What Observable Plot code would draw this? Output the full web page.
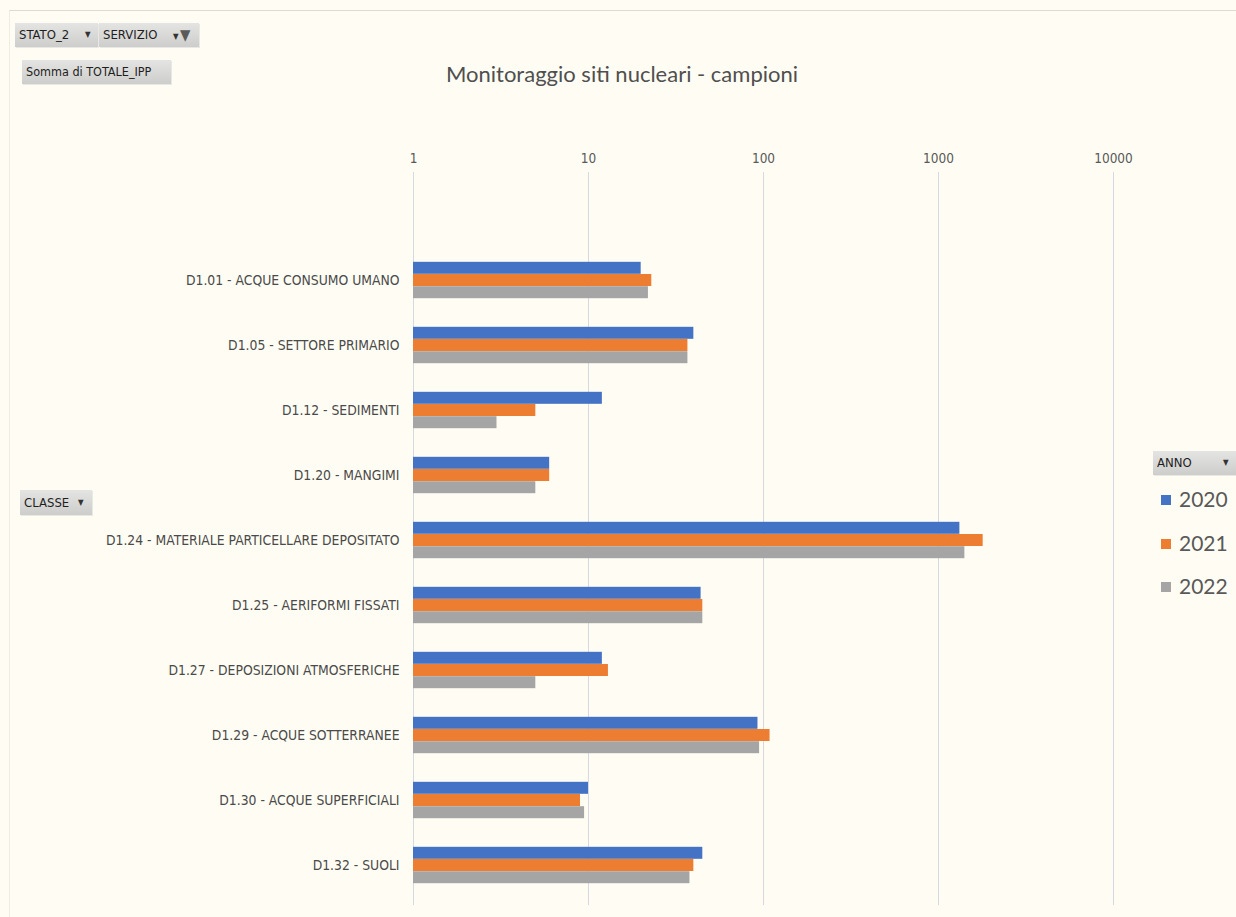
<!DOCTYPE html>
<html>
<head>
<meta charset="utf-8">
<script src="https://cdn.jsdelivr.net/npm/d3@7"></script>
<script src="https://cdn.jsdelivr.net/npm/@observablehq/plot@0.6"></script>
<style>
  html, body { margin: 0; padding: 0; background: #fffdf3; }
  #page { position: relative; width: 1236px; height: 917px; overflow: hidden; background: #fffdf3;
          font-family: "DejaVu Sans Condensed", sans-serif; }
  .frame { position: absolute; left: 9px; top: 10px; right: -2px; bottom: -2px;
           border-top: 1px solid #dcdbd4; border-left: 1px solid #eeede4; }
  .btn { position: absolute; box-sizing: border-box; background: linear-gradient(#e4e4e2, #cdcdcb);
         color: #1e1e1e; font-size: 13px; padding-left: 4px; white-space: nowrap;
         box-shadow: 1px 1px 0 #e8e8e4; }
  .btn .arr { font-size: 8px; position: absolute; color: #333; }
  #title { position: absolute; left: 0; width: 1244px; top: 60px; text-align: center;
           font-family: Lato, "Open Sans", sans-serif; font-size: 22px; color: #4f4f4f; }
  #chart { position: absolute; left: 0; top: 0; }
  .leg { position: absolute; left: 1161px; font-family: Lato, "Open Sans", sans-serif;
         font-size: 21px; color: #595959; line-height: 24px; }
  .leg i { display: inline-block; width: 10px; height: 10px; margin-right: 8px; vertical-align: 2px; }
</style>
</head>
<body>
<div id="page">
  <div class="frame"></div>
  <div class="btn" style="left:15px;top:23px;width:83px;height:24px;line-height:24px;">STATO_2<span class="arr" style="left:70px;">&#9660;</span></div>
  <div class="btn" style="left:99px;top:23px;width:100px;height:24px;line-height:24px;">SERVIZIO<span class="arr" style="left:74px;top:2px;">&#9660;</span><span style="position:absolute;left:81px;top:0;color:#5a5a5a;font-size:15px;">&#9660;</span></div>
  <div class="btn" style="left:22px;top:60px;width:149px;height:24px;line-height:24px;font-size:12.5px;">Somma di TOTALE_IPP</div>
  <div class="btn" style="left:20px;top:490px;width:72px;height:25px;line-height:25px;">CLASSE<span class="arr" style="left:58px;">&#9660;</span></div>
  <div class="btn" style="left:1153px;top:451px;width:83px;height:24px;line-height:24px;">ANNO<span class="arr" style="left:70px;">&#9660;</span></div>
  <div id="title">Monitoraggio siti nucleari - campioni</div>
  <div id="chart"></div>
  <div id="legend"></div>
</div>
<script>
// Campioni per classe di matrice e anno (scala logaritmica)
const categories = [
  "D1.01 - ACQUE CONSUMO UMANO",
  "D1.05 - SETTORE PRIMARIO",
  "D1.12 - SEDIMENTI",
  "D1.20 - MANGIMI",
  "D1.24 - MATERIALE PARTICELLARE DEPOSITATO",
  "D1.25 - AERIFORMI FISSATI",
  "D1.27 - DEPOSIZIONI ATMOSFERICHE",
  "D1.29 - ACQUE SOTTERRANEE",
  "D1.30 - ACQUE SUPERFICIALI",
  "D1.32 - SUOLI"
];
const years = ["2020", "2021", "2022"];
const values2020 = [20, 40, 12, 6, 1325, 44, 12, 93, 10, 45];
const values2021 = [23, 37, 5, 6, 1800, 45, 13, 109, 9, 40];
const values2022 = [22, 37, 3, 5, 1415, 45, 5, 95, 9.5, 38];
const xTicks = [1, 10, 100, 1000, 10000];
const yearColors = ["#4472c4", "#ed7d31", "#a5a5a5"];

const series = [values2020, values2021, values2022];
const rows = years.flatMap((year, i) =>
  categories.map((cat, j) => ({cat, year, value: series[i][j]})));

// y bands: one band per class, three stacked bars inside each band
const bandTop = 245, bandBottom = 899.4;
const step = (bandBottom - bandTop) / categories.length;
const barH = 12.2;
const pInner = 1 - barH / step;

const chart = Plot.plot({
  width: 1236,
  height: 917,
  marginTop: 172,
  marginBottom: 12,
  marginLeft: 413,
  marginRight: 123,
  style: {background: "transparent", fontFamily: "'DejaVu Sans Condensed', sans-serif", fontSize: "14px", color: "#4a4a4a"},
  x: {type: "log", domain: [1, 10000]},
  y: {domain: categories, range: [bandTop, bandBottom], paddingInner: pInner, paddingOuter: pInner / 2},
  marks: [
    Plot.ruleX(xTicks, {stroke: "#d7d9e1", strokeWidth: 1}),
    ...years.map((year, i) => Plot.barX(rows.filter(d => d.year === year), {
      x1: () => 1, x2: "value", y: "cat", fill: yearColors[i], dy: (i - 1) * barH
    })),
    Plot.axisX(xTicks, {anchor: "top", tickSize: 0, tickPadding: 10, tickFormat: d => String(d), label: null, fill: "#595959", fontSize: 13.5}),
    Plot.axisY({anchor: "left", tickSize: 0, tickPadding: 14, label: null, fill: "#4a4a4a", fontSize: 13.8})
  ]
});
document.getElementById("chart").appendChild(chart);

// Legend built from the same years/colours
const legend = document.getElementById("legend");
years.forEach((year, i) => {
  const el = document.createElement("div");
  el.className = "leg";
  el.style.top = (487 + i * 43.6) + "px";
  el.innerHTML = `<i style="background:${yearColors[i]}"></i>${year}`;
  legend.appendChild(el);
});
</script>
</body>
</html>
